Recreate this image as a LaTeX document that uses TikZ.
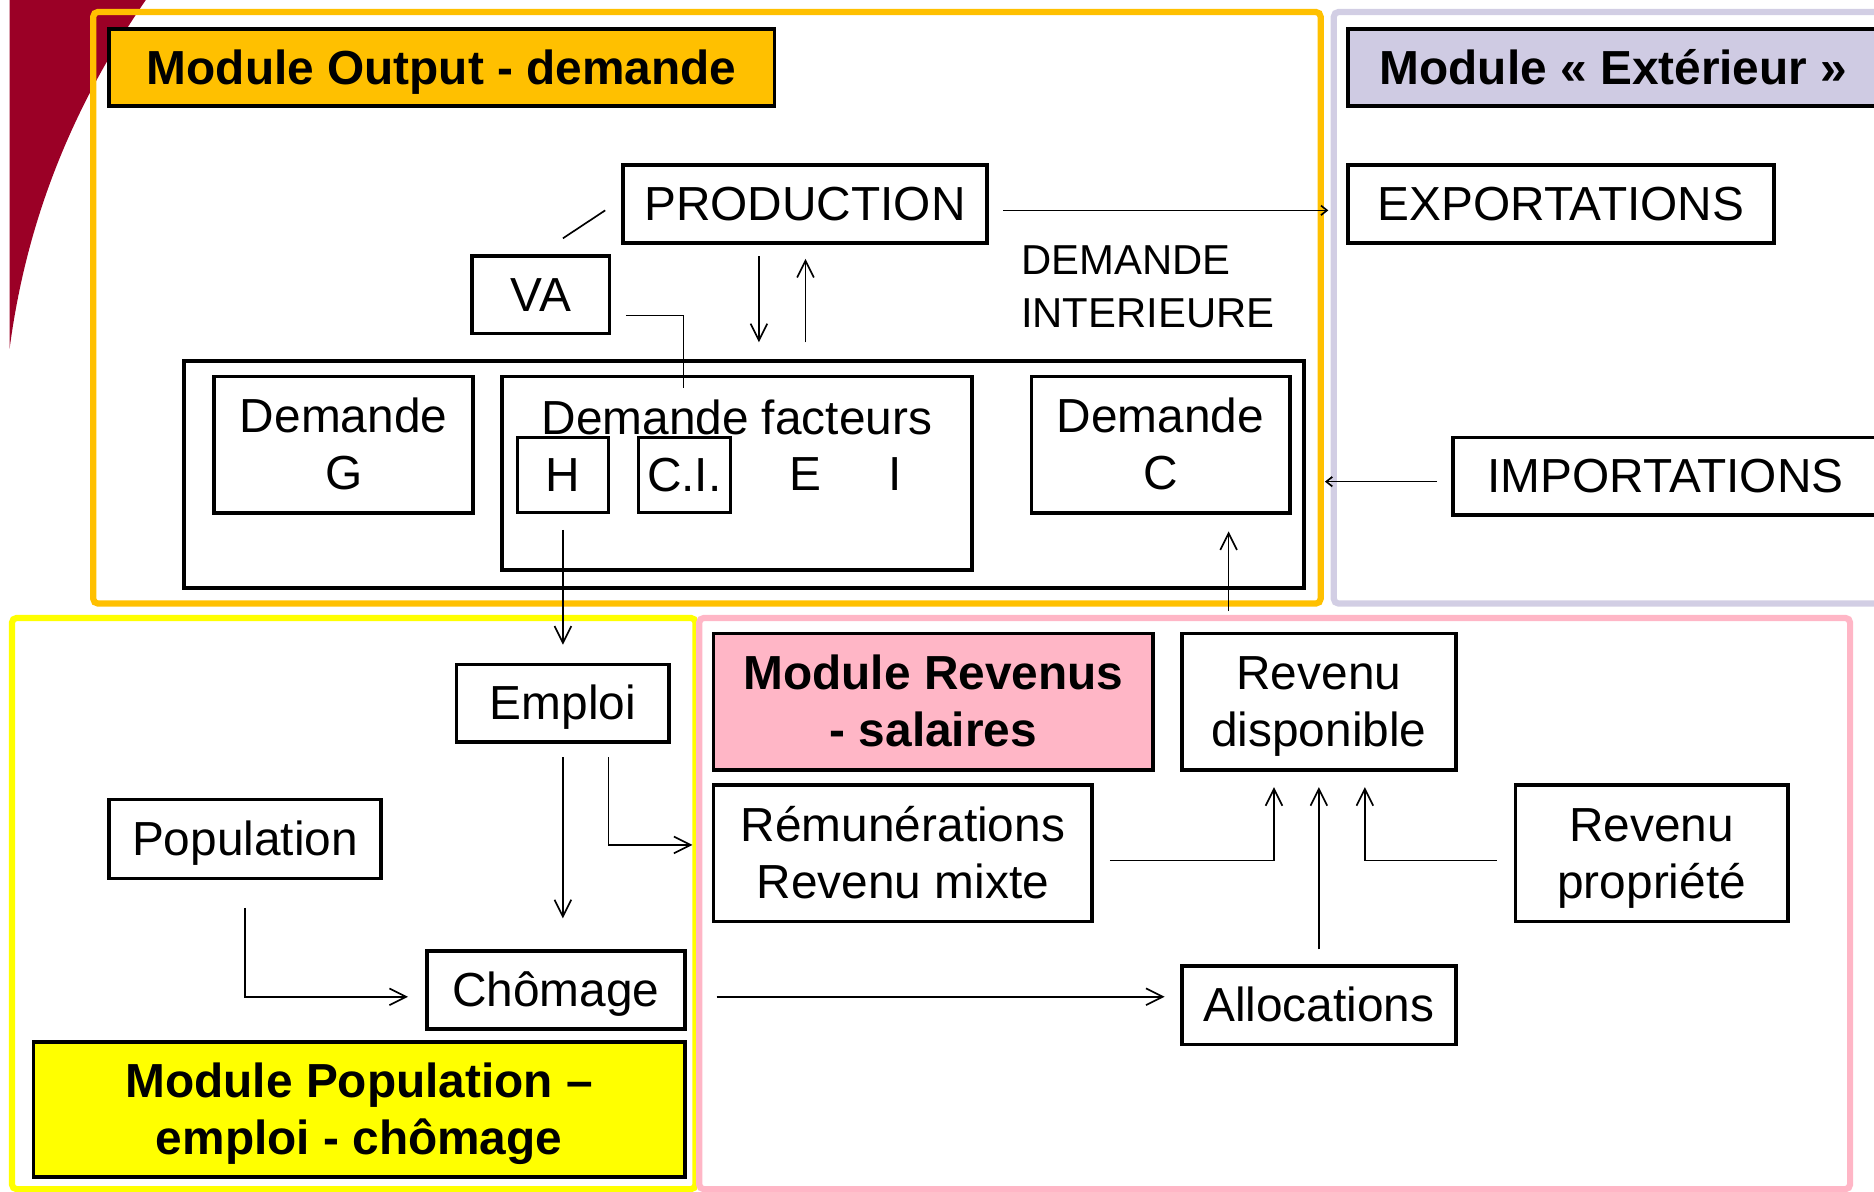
\documentclass[tikz,border=0pt]{standalone}
\usepackage{fontspec}
\setmainfont{Liberation Sans}
\usetikzlibrary{arrows.meta}
\definecolor{swoosh}{RGB}{155,0,38}
\definecolor{oframe}{RGB}{255,192,0}
\definecolor{lframe}{RGB}{210,206,228}
\definecolor{ltitle}{RGB}{207,203,227}
\definecolor{yframe}{RGB}{255,255,0}
\definecolor{pframe}{RGB}{255,182,198}
\newcommand\pps{\rule[-4.24pt]{0pt}{22.34pt}}
\begin{document}
\begin{tikzpicture}[x=0.5pt,y=-0.5pt,
  box/.style={draw=black,line width=1.6pt,fill=white,inner sep=0pt,align=center,font=\fontsize{20}{24}\selectfont},
  small/.style={box,line width=1.3pt},
  title/.style={box,font=\fontsize{20}{24}\selectfont\bfseries},
  frame/.style={line width=2.6pt,rounded corners=2pt},
  txt/.style={inner sep=0pt,font=\fontsize{20}{24}\selectfont},
  conn/.style={line width=0.7pt,-{Straight Barb[length=7pt,width=7pt]}},
  tiny/.style={line width=0.7pt,-{Straight Barb[length=2.5pt,width=4pt]}},
  plain/.style={line width=0.7pt}]
\useasboundingbox (0,0) rectangle (1568,997);
% background swoosh
\fill[swoosh] (8,0) -- (122,0) .. controls (60,90) and (22,185) .. (8,292) -- cycle;
% module frames
\draw[frame,draw=lframe] (1116,10) rectangle (1580,505);
\draw[frame,draw=oframe] (78,10) rectangle (1105,505);
\draw[frame,draw=yframe] (10,517) rectangle (582,995);
\draw[frame,draw=pframe] (585,517) rectangle (1548,995);
% titles
\node[title,fill=oframe,minimum width=278.5pt,minimum height=32.5pt] (outT) at (369.5,56.5) {\pps Module Output - demande};
\node[title,fill=ltitle,minimum width=222pt,minimum height=32.5pt] (extT) at (1350,56.5) {\pps Module « Extérieur »};
\node[title,fill=pframe,minimum width=184pt,minimum height=57pt] (revT) at (781,587) {\pps Module Revenus\\\pps - salaires};
\node[title,fill=yframe,minimum width=272.5pt,minimum height=56.5pt] (popT) at (300.5,928.5) {\pps Module Population –\\\pps emploi - chômage};
% output module
\node[box,minimum width=152.5pt,minimum height=32.5pt] (prod) at (673.5,170.5) {\pps PRODUCTION};
\node[box,minimum width=57.5pt,minimum height=32.5pt] (va) at (452.5,246.5) {\pps VA};
\node[box,minimum width=468.5pt,minimum height=95pt] (outer) at (622.5,397) {};
\node[box,minimum width=108.5pt,minimum height=57pt] (demG) at (287.5,372) {\pps Demande\\\pps G};
\node[box,minimum width=196.5pt,minimum height=81pt] (demF) at (616.5,396) {};
\node[txt] (demFt) at (616.5,349) {Demande facteurs};
\node[small,minimum width=38pt,minimum height=31.5pt] (H) at (471,397.5) {\pps H};
\node[small,minimum width=38.5pt,minimum height=31.5pt] (CI) at (572.5,397.5) {\pps C.I.};
\node[txt] (E) at (674,397) {E};
\node[txt] (I) at (749,397) {I};
\node[box,minimum width=108pt,minimum height=57pt] (demC) at (971,372) {\pps Demande\\\pps C};
\node[txt,anchor=west,align=left,font=\fontsize{17.5}{22}\selectfont] (dint) at (854,240) {DEMANDE\\INTERIEURE};
% exterior module
\node[box,minimum width=178pt,minimum height=32.5pt] (exp) at (1306,170.5) {\pps EXPORTATIONS};
\node[box,minimum width=177.5pt,minimum height=32.5pt] (imp) at (1393.5,398.5) {\pps IMPORTATIONS};
% population module
\node[box,minimum width=89pt,minimum height=32.5pt] (emploi) at (471,588.5) {\pps Emploi};
\node[box,minimum width=114pt,minimum height=33pt] (pop) at (205,702) {\pps Population};
\node[box,minimum width=108pt,minimum height=32.5pt] (chom) at (465,828.5) {\pps Chômage};
% revenus module
\node[box,minimum width=158.5pt,minimum height=57pt] (remu) at (755.5,714) {\pps Rémunérations\\\pps Revenu mixte};
\node[box,minimum width=114.5pt,minimum height=57pt] (revd) at (1103.5,587) {\pps Revenu\\\pps disponible};
\node[box,minimum width=114pt,minimum height=57pt] (revp) at (1382,714) {\pps Revenu\\\pps propriété};
\node[box,minimum width=114.5pt,minimum height=33pt] (alloc) at (1103.5,841) {\pps Allocations};
% connectors
\draw[tiny] ([xshift=6pt,yshift=-2.75pt]prod.east) -- ([xshift=-7.5pt,yshift=-2.75pt]exp.west);
\draw[plain] ([xshift=9.25pt,yshift=6.5pt]va.north) -- ([xshift=-6.5pt,yshift=-2.75pt]prod.west);
\draw[conn] ([xshift=-19.25pt,yshift=-5pt]prod.south) -- ([xshift=6.25pt,yshift=7pt]outer.north);
\draw[conn] ([xshift=25.75pt,yshift=7pt]outer.north) -- ([xshift=0.25pt,yshift=-6pt]prod.south);
\draw[plain] ([xshift=6pt,yshift=-8.75pt]va.east) -| ([xshift=-22.25pt,yshift=-5.5pt]demF.north);
\draw[tiny] ([xshift=-6pt,yshift=-2.25pt]imp.west) -- ([xshift=8pt,yshift=-3pt]outer.east);
\draw[conn] ([yshift=-6.5pt]H.south) -- ([yshift=7.5pt]emploi.north);
\draw[conn] ([xshift=-37.75pt,yshift=8.5pt]revd.north) -- ([xshift=28.5pt,yshift=-7pt]demC.south);
\draw[conn] ([yshift=-5.5pt]emploi.south) -- ([xshift=3pt,yshift=13pt]chom.north);
\draw[conn] ([xshift=19pt,yshift=-5.5pt]emploi.south) |- ([xshift=-8pt,yshift=3.5pt]remu.west);
\draw[conn] ([yshift=-11.5pt]pop.south) |- ([xshift=-7pt,yshift=-2.75pt]chom.west);
\draw[conn] ([xshift=12.5pt,yshift=-2.75pt]chom.east) -- ([xshift=-6.5pt,yshift=3.5pt]alloc.west);
\draw[conn] ([xshift=6.5pt,yshift=-3pt]remu.east) -| ([xshift=-18.75pt,yshift=-6.5pt]revd.south);
\draw[conn] ([yshift=6pt]alloc.north) -- ([yshift=-6.5pt]revd.south);
\draw[conn] ([xshift=-7pt,yshift=-3pt]revp.west) -| ([xshift=19.25pt,yshift=-6.5pt]revd.south);
\end{tikzpicture}
\end{document}
